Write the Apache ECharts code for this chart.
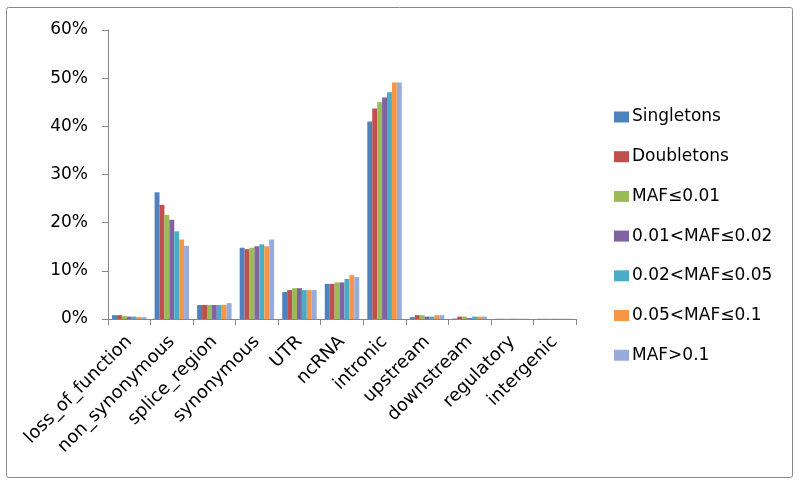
<!DOCTYPE html>
<html>
<head>
<meta charset="utf-8">
<script src="https://cdn.jsdelivr.net/npm/echarts@6/dist/echarts.min.js"></script>
<style>html,body{margin:0;padding:0;background:#fff;}#chart{width:800px;height:484px;}</style>
</head>
<body>
<div id="chart"></div>
<script>
var categories = ['loss_of_function','non_synonymous','splice_region','synonymous','UTR','ncRNA','intronic','upstream','downstream','regulatory','intergenic'];
var seriesNames = ['Singletons','Doubletons','MAF≤0.01','0.01<MAF≤0.02','0.02<MAF≤0.05','0.05<MAF≤0.1','MAF>0.1'];
var singletons = [0.8, 26.3, 2.9, 14.8, 5.6, 7.3, 41.0, 0.4, 0.1, 0.05, 0.05];
var doubletons = [0.8, 23.7, 2.9, 14.5, 6.0, 7.3, 43.7, 0.8, 0.5, 0.05, 0.05];
var maf001     = [0.6, 21.6, 2.9, 14.8, 6.4, 7.6, 45.0, 0.8, 0.5, 0.05, 0.05];
var maf002     = [0.5, 20.6, 2.9, 15.1, 6.4, 7.6, 46.0, 0.5, 0.2, 0.05, 0.05];
var maf005     = [0.5, 18.2, 2.9, 15.5, 6.0, 8.3, 47.1, 0.5, 0.5, 0.05, 0.05];
var maf01      = [0.4, 16.5, 2.9, 15.1, 6.0, 9.1, 49.1, 0.8, 0.5, 0.05, 0.05];
var mafHigh    = [0.4, 15.2, 3.3, 16.5, 6.0, 8.7, 49.1, 0.8, 0.5, 0.05, 0.05];
var yTicks = [0, 10, 20, 30, 40, 50, 60];

var colors = ['#4F81BD','#C0504D','#9BBB59','#8064A2','#4BACC6','#F79646','#97ACDA'];
var allData = [singletons, doubletons, maf001, maf002, maf005, maf01, mafHigh];
var font = 'DejaVu Sans';

var chart = echarts.init(document.getElementById('chart'), null, {renderer:'canvas'});
chart.setOption({
  animation: false,
  color: colors,
  graphic: [{
    type: 'rect', shape: {x: 6.5, y: 7.5, width: 786, height: 470, r: 2},
    style: {fill: 'none', stroke: '#8a8a8a', lineWidth: 1}, silent: true
  }],
  legend: {
    orient: 'vertical', left: 614, top: 107, padding: 0,
    itemWidth: 15, itemHeight: 11, itemGap: 19.7,
    icon: 'rect',
    textStyle: {fontFamily: font, fontSize: 17, color: '#000', lineHeight: 20, padding: [0,0,0,-2]},
    data: seriesNames
  },
  grid: {left: 108, right: 224, top: 30, bottom: 165},
  xAxis: {
    type: 'category', data: categories,
    axisLine: {lineStyle: {color: '#868686', width: 1}},
    axisTick: {show: true, length: 6, alignWithLabel: false, lineStyle: {color: '#868686'}},
    axisLabel: {rotate: 45, fontFamily: font, fontSize: 18, color: '#000', margin: 20, interval: 0}
  },
  yAxis: {
    type: 'value', min: 0, max: 60, interval: 10,
    axisLine: {show: true, lineStyle: {color: '#868686', width: 1}},
    axisTick: {show: true, length: 6, lineStyle: {color: '#868686'}},
    splitLine: {show: false},
    axisLabel: {fontFamily: font, fontSize: 17, color: '#000', margin: 20,
      formatter: function (v) { return yTicks.indexOf(v) >= 0 ? v + '%' : ''; }}
  },
  series: seriesNames.map(function (n, i) {
    return {name: n, type: 'bar', data: allData[i], barGap: '0%', barCategoryGap: '19%'};
  })
});
</script>
</body>
</html>
